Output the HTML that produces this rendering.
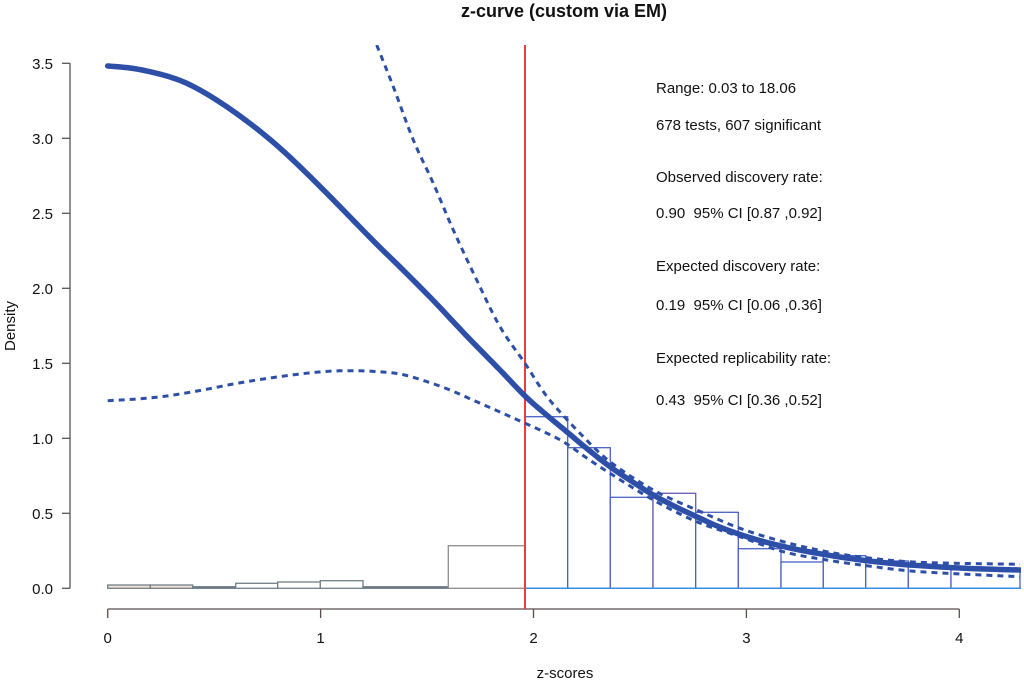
<!DOCTYPE html>
<html>
<head>
<meta charset="utf-8">
<style>
  html, body { margin:0; padding:0; background:#fff; }
  svg { display:block; }
  text { font-family: "Liberation Sans", Arial, sans-serif; fill:#111; }
</style>
</head>
<body>
<svg width="1024" height="681" viewBox="0 0 1024 681" xmlns="http://www.w3.org/2000/svg">
  <defs>
    <clipPath id="plot"><rect x="70" y="45" width="951" height="545"/></clipPath>
  </defs>

  <!-- Title -->
  <text x="564" y="17" font-size="18" font-weight="bold" text-anchor="middle">z-curve (custom via EM)</text>

  <!-- Y axis -->
  <g stroke="#555" stroke-width="1.3" fill="none">
    <line x1="70" y1="63.3" x2="70" y2="588.3"/>
    <line x1="62" y1="63.3" x2="70" y2="63.3"/>
    <line x1="62" y1="138.3" x2="70" y2="138.3"/>
    <line x1="62" y1="213.3" x2="70" y2="213.3"/>
    <line x1="62" y1="288.3" x2="70" y2="288.3"/>
    <line x1="62" y1="363.3" x2="70" y2="363.3"/>
    <line x1="62" y1="438.3" x2="70" y2="438.3"/>
    <line x1="62" y1="513.3" x2="70" y2="513.3"/>
    <line x1="62" y1="588.3" x2="70" y2="588.3"/>
  </g>
  <g font-size="15" text-anchor="end">
    <text x="53" y="69">3.5</text>
    <text x="53" y="144">3.0</text>
    <text x="53" y="219">2.5</text>
    <text x="53" y="294">2.0</text>
    <text x="53" y="369">1.5</text>
    <text x="53" y="444">1.0</text>
    <text x="53" y="519">0.5</text>
    <text x="53" y="594">0.0</text>
  </g>
  <text transform="translate(15,326) rotate(-90)" font-size="15" text-anchor="middle">Density</text>

  <!-- X axis -->
  <g stroke="#5a4d4d" stroke-width="1.3" fill="none">
    <line x1="107.7" y1="609" x2="959.3" y2="609"/>
    <line x1="107.7" y1="609" x2="107.7" y2="618"/>
    <line x1="320.6" y1="609" x2="320.6" y2="618"/>
    <line x1="533.5" y1="609" x2="533.5" y2="618"/>
    <line x1="746.4" y1="609" x2="746.4" y2="618"/>
    <line x1="959.3" y1="609" x2="959.3" y2="618"/>
  </g>
  <g font-size="15" text-anchor="middle">
    <text x="107.7" y="643">0</text>
    <text x="320.6" y="643">1</text>
    <text x="533.5" y="643">2</text>
    <text x="746.4" y="643">3</text>
    <text x="959.3" y="643">4</text>
  </g>
  <text x="565" y="678" font-size="15" text-anchor="middle">z-scores</text>

  <!-- Left (non-significant) histogram bars -->
  <g stroke="#6f7f88" stroke-width="1.3">
    <rect x="107.7" y="585" width="42.6" height="3.3" fill="#f5e1d6"/>
    <rect x="150.3" y="585" width="42.4" height="3.3" fill="#f5e1d6"/>
    <rect x="192.7" y="586.7" width="43" height="1.6" fill="#777"/>
    <rect x="235.7" y="583.3" width="42" height="5" fill="#fff"/>
    <rect x="277.7" y="582" width="42.6" height="6.3" fill="#fff"/>
    <rect x="320.3" y="580.7" width="42.7" height="7.6" fill="#fff"/>
    <rect x="363" y="586.7" width="42.7" height="1.6" fill="#777"/>
    <rect x="405.7" y="586.7" width="42.6" height="1.6" fill="#777"/>
  </g>
  <rect x="448.3" y="545.7" width="76.7" height="42.6" fill="#fff" stroke="#8a8d8f" stroke-width="1.3"/>

  <!-- Right (significant) histogram bars -->
  <g stroke="#4a62c2" stroke-width="1.3" fill="#fff">
    <rect x="525" y="416.7" width="42.7" height="171.6"/>
    <rect x="567.7" y="447.7" width="42.6" height="140.6"/>
    <rect x="610.3" y="497.3" width="42.7" height="91"/>
    <rect x="653" y="493.3" width="42.7" height="95" stroke="#6a58b0"/>
    <rect x="695.7" y="512.3" width="42.6" height="76"/>
    <rect x="738.3" y="548.7" width="42.7" height="39.6"/>
    <rect x="781" y="562" width="42.3" height="26.3"/>
    <rect x="823.3" y="555.7" width="42.4" height="32.6"/>
    <rect x="865.7" y="561" width="42.6" height="27.3"/>
    <rect x="908.3" y="567" width="42.7" height="21.3"/>
    <rect x="951" y="569" width="69" height="19.3"/>
  </g>
  <line x1="525" y1="588.3" x2="1021" y2="588.3" stroke="#3a8ee0" stroke-width="1.5"/>

  <!-- Red line -->
  <line x1="525" y1="45" x2="525" y2="609" stroke="#ee3b3b" stroke-width="2"/>

  <!-- Curves -->
  <g clip-path="url(#plot)" fill="none" stroke="#2d4fa8" stroke-linecap="round" stroke-linejoin="round">
    <polyline class="smooth" stroke-width="3" stroke-dasharray="6 5" stroke-linecap="butt"
      points="376.7,45 393.3,86.7 413.3,140 433.3,183.3 453.3,230 476.7,280 500,326.7 525,363.3 540,386.7 553,404 580,433.3 610,461.7 653.3,490 696.7,510 740,528.3 783.3,541.7 826.7,551.7 866.7,557.7 920,562.3 1020,564.3"/>
    <polyline class="smooth" stroke-width="3" stroke-dasharray="6 5" stroke-linecap="butt"
      points="107.7,400.7 137,399 166.7,396 200,390.5 233.3,384 266.7,378.5 300,374 325,371.5 350,370.7 375,371.5 400,374 425,381 450,390 475,401 500,412 520,421 540,430 563.3,441.7 586,457.5 610,473.3 653.3,500 696.7,521.7 740,536.7 783.3,551.7 826.7,560 866.7,565.7 920,571.7 1020,576.7"/>
    <polyline class="smooth" stroke-width="5.5"
      points="107.7,66 130,68 150,71.7 170,77 186.7,83.3 206,93.5 226.7,106.7 246,120.5 266.7,136.7 287,154.5 306.7,173.3 323,189.5 340,206.7 361.7,229 380,247.5 400,267 433.3,300.5 466.7,336 500,370 525,396 546,414.5 566.7,431.7 588,449.5 610,466.7 632,481.5 653.3,495 675,506.5 696.7,516.7 716,525.5 736.7,533.3 758,540 780,545.7 801,550.3 823.3,554.3 845,557.8 866.7,560.7 888,563 910,565 953.3,567.7 985,569 1020,570"/>
  </g>

  <!-- Annotation text -->
  <g font-size="15">
    <text x="656" y="93">Range: 0.03 to 18.06</text>
    <text x="656" y="130">678 tests, 607 significant</text>
    <text x="656" y="182">Observed discovery rate:</text>
    <text x="656" y="218">0.90&#160; 95% CI [0.87 ,0.92]</text>
    <text x="656" y="271">Expected discovery rate:</text>
    <text x="656" y="310">0.19&#160; 95% CI [0.06 ,0.36]</text>
    <text x="656" y="363">Expected replicability rate:</text>
    <text x="656" y="405">0.43&#160; 95% CI [0.36 ,0.52]</text>
  </g>
</svg>
<script>
(function(){
  var els = document.querySelectorAll('polyline.smooth');
  for (var e = 0; e < els.length; e++) {
    var el = els[e];
    var raw = el.getAttribute('points').trim().split(/\s+/).map(function(s){var a=s.split(',');return [parseFloat(a[0]),parseFloat(a[1])];});
    var out = [];
    var n = raw.length;
    for (var i = 0; i < n - 1; i++) {
      var p0 = raw[Math.max(0,i-1)], p1 = raw[i], p2 = raw[i+1], p3 = raw[Math.min(n-1,i+2)];
      var steps = 8;
      for (var s = 0; s < steps; s++) {
        var t = s/steps, t2 = t*t, t3 = t2*t;
        var x = 0.5*((2*p1[0]) + (-p0[0]+p2[0])*t + (2*p0[0]-5*p1[0]+4*p2[0]-p3[0])*t2 + (-p0[0]+3*p1[0]-3*p2[0]+p3[0])*t3);
        var y = 0.5*((2*p1[1]) + (-p0[1]+p2[1])*t + (2*p0[1]-5*p1[1]+4*p2[1]-p3[1])*t2 + (-p0[1]+3*p1[1]-3*p2[1]+p3[1])*t3);
        out.push(x.toFixed(2)+','+y.toFixed(2));
      }
    }
    out.push(raw[n-1][0]+','+raw[n-1][1]);
    el.setAttribute('points', out.join(' '));
  }
})();
</script>
</body>
</html>
